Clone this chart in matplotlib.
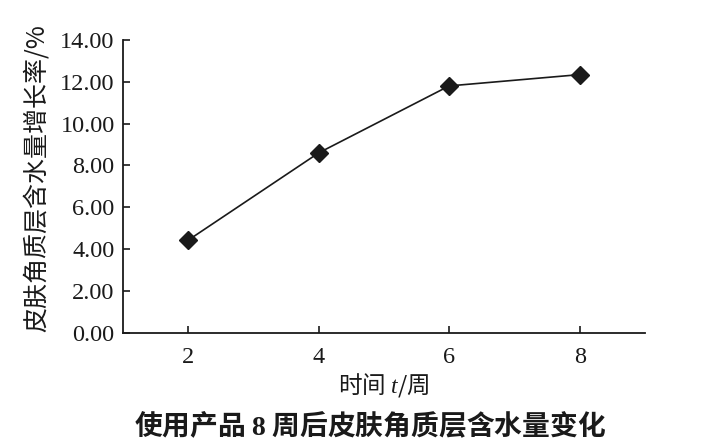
import matplotlib
matplotlib.use("Agg")
import matplotlib.pyplot as plt

weeks = [2, 4, 6, 8]
growth = [4.43, 8.60, 11.80, 12.34]
yticks = [0, 2, 4, 6, 8, 10, 12, 14]

plt.rcParams['font.family'] = ['Liberation Serif', 'Noto Sans CJK SC']
plt.rcParams['mathtext.fontset'] = 'custom'
plt.rcParams['mathtext.it'] = 'Liberation Serif:italic'
plt.rcParams['mathtext.bf'] = 'Liberation Serif:bold'
plt.rcParams['mathtext.rm'] = 'Liberation Serif'

fig = plt.figure(figsize=(7.11, 4.48), dpi=100)
ax = fig.add_axes([0.173, 0.257, 0.734, 0.654])

ax.plot(weeks, growth, color='#1a1a1a', lw=1.2, marker='D', markersize=9)

ax.set_xlim(1, 9)
ax.set_ylim(0, 14)
ax.set_xticks(weeks)
ax.set_yticks(yticks)
ax.set_yticklabels([f"{v:.2f}" for v in yticks])
ax.tick_params(direction='in', length=5, width=1.2, labelsize=17.5, colors='#1a1a1a')
ax.tick_params(axis='x', pad=10)
ax.tick_params(axis='y', pad=6)
for s in ['top', 'right']:
    ax.spines[s].set_visible(False)
for s in ['left', 'bottom']:
    ax.spines[s].set_linewidth(1.3)
    ax.spines[s].set_color('#1a1a1a')

ax.set_ylabel('皮肤角质层含水量增长率/%', family='Noto Sans CJK SC', fontsize=18,
              fontweight='light', color='#1a1a1a')
ax.yaxis.set_label_coords(-0.14, 0.53)
ax.set_xlabel('时间 $t$/周', family='Noto Sans CJK SC', fontsize=17,
              fontweight='light', color='#1a1a1a', labelpad=2)

fig.text(0.52, 0.05, '使用产品 $\\mathbf{8}$ 周后皮肤角质层含水量变化',
         family='Noto Sans CJK SC', fontweight='bold', fontsize=20,
         ha='center', va='center', color='#1a1a1a')

fig.savefig('out.png', dpi=100)
